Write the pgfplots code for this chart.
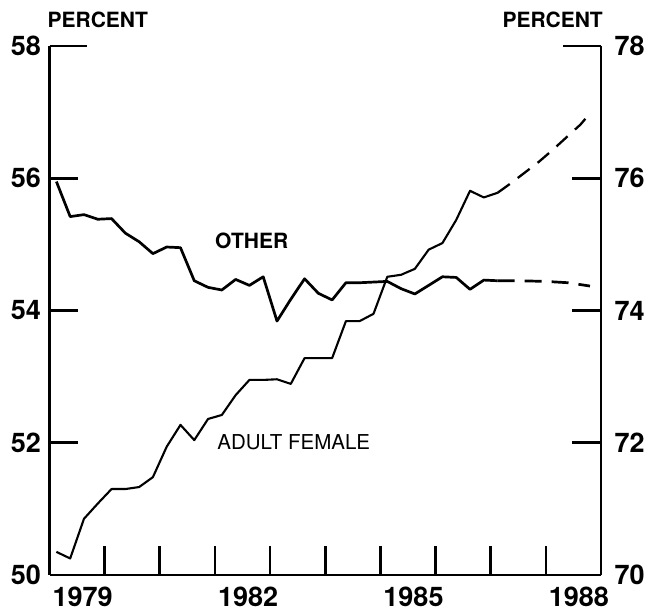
\documentclass[border=0pt]{standalone}
\usepackage{fontspec}
\setmainfont{TeX Gyre Heros}
\usepackage{pgfplots}
\pgfplotsset{compat=1.18}

\pgfplotstableread{
x y
1979.125 50.35
1979.375 50.25
1979.625 50.85
1979.875 51.08
1980.125 51.30
1980.375 51.30
1980.625 51.33
1980.875 51.48
1981.125 51.94
1981.375 52.27
1981.625 52.04
1981.875 52.36
1982.125 52.42
1982.375 52.72
1982.625 52.95
1982.875 52.95
1983.125 52.96
1983.375 52.89
1983.625 53.28
1983.875 53.28
1984.125 53.28
1984.375 53.84
1984.625 53.84
1984.875 53.95
1985.125 54.51
1985.375 54.54
1985.625 54.63
1985.875 54.92
1986.125 55.02
1986.375 55.37
1986.625 55.81
1986.875 55.71
1987.125 55.78
}\female

\pgfplotstableread{
x y
1987.125 55.78
1987.375 55.93
1987.625 56.09
1987.875 56.25
1988.125 56.43
1988.375 56.62
1988.625 56.81
1988.800 56.98
}\femaleproj

\pgfplotstableread{
x y
1979.125 75.95
1979.375 75.42
1979.625 75.45
1979.875 75.38
1980.125 75.39
1980.375 75.17
1980.625 75.04
1980.875 74.86
1981.125 74.96
1981.375 74.95
1981.625 74.45
1981.875 74.35
1982.125 74.31
1982.375 74.47
1982.625 74.38
1982.875 74.51
1983.125 73.84
1983.375 74.17
1983.625 74.48
1983.875 74.26
1984.125 74.16
1984.375 74.42
1984.625 74.42
1984.875 74.43
1985.125 74.44
1985.375 74.33
1985.625 74.25
1985.875 74.38
1986.125 74.51
1986.375 74.50
1986.625 74.32
1986.875 74.46
1987.125 74.45
}\other

\pgfplotstableread{
x y
1987.125 74.45
1987.500 74.45
1988.000 74.44
1988.400 74.42
1988.800 74.37
}\otherproj

\pgfplotsset{
  common/.style={
    scale only axis,
    width=551.5pt, height=529pt,
    xmin=1979, xmax=1989,
    clip=false,
    /pgf/number format/assume math mode=true,
    ticklabel style={font=\fontsize{27}{27}\selectfont\bfseries},
  },
  common2/.style={
    tick align=inside,
    major tick length=29pt,
    axis line style={-, line width=2.6pt, black},
    x axis line style={-}, y axis line style={-},
    every outer x axis line/.append style={-},
    every outer y axis line/.append style={-},
    every inner x axis line/.append style={-},
    every inner y axis line/.append style={-},
    tick style={line width=2.6pt, black},
    extra y tick style={major tick length=38pt, tick align=inside},
  }
}

\begin{document}
\begin{tikzpicture}
\path[use as bounding box] (-49.5pt,-38pt) rectangle (608.5pt,575pt);
\begin{axis}[common,
  axis x line=bottom, axis y line=left,
  common2,
  ymin=50, ymax=58,
  ytick={50,52,54,56}, extra y ticks={58},
  xtick={1980,...,1988}, xticklabels={},
  extra x ticks={1979.6,1982.6,1985.6,1988.6},
  extra x tick labels={1979,1982,1985,1988},
  extra x tick style={major tick length=0pt},
  xticklabel style={yshift=-8pt},
  yticklabel style={xshift=-5pt},
]
\addplot[black, line width=2.1pt, line join=round] table[x=x,y=y] {\female};
\addplot[black, line width=2.3pt, dash pattern=on 15pt off 10pt] table[x=x,y=y] {\femaleproj};
\node[anchor=base west, inner sep=0, font=\fontsize{21}{21}\selectfont\bfseries] at ([xshift=-2pt,yshift=19pt]rel axis cs:0,1) {PERCENT};
\node[anchor=west, inner sep=0, font=\fontsize{21}{21}\selectfont\bfseries] at (axis cs:1982.0,55.05) {OTHER};
\node[anchor=west, inner sep=0, font=\fontsize{20.5}{21}\selectfont] at (axis cs:1982.04,52.01) {ADULT FEMALE};
\end{axis}
\begin{axis}[common,
  axis x line=none, axis y line=right,
  common2,
  ymin=70, ymax=78,
  ytick={70,72,74,76}, extra y ticks={78},
  yticklabel style={xshift=10pt},
]
\addplot[black, line width=2.7pt, line join=round] table[x=x,y=y] {\other};
\addplot[black, line width=2.7pt, dash pattern=on 17pt off 10pt] table[x=x,y=y] {\otherproj};
\node[anchor=base east, inner sep=0, font=\fontsize{21}{21}\selectfont\bfseries] at ([xshift=2pt,yshift=19pt]rel axis cs:1,1) {PERCENT};
\end{axis}
\end{tikzpicture}
\end{document}
